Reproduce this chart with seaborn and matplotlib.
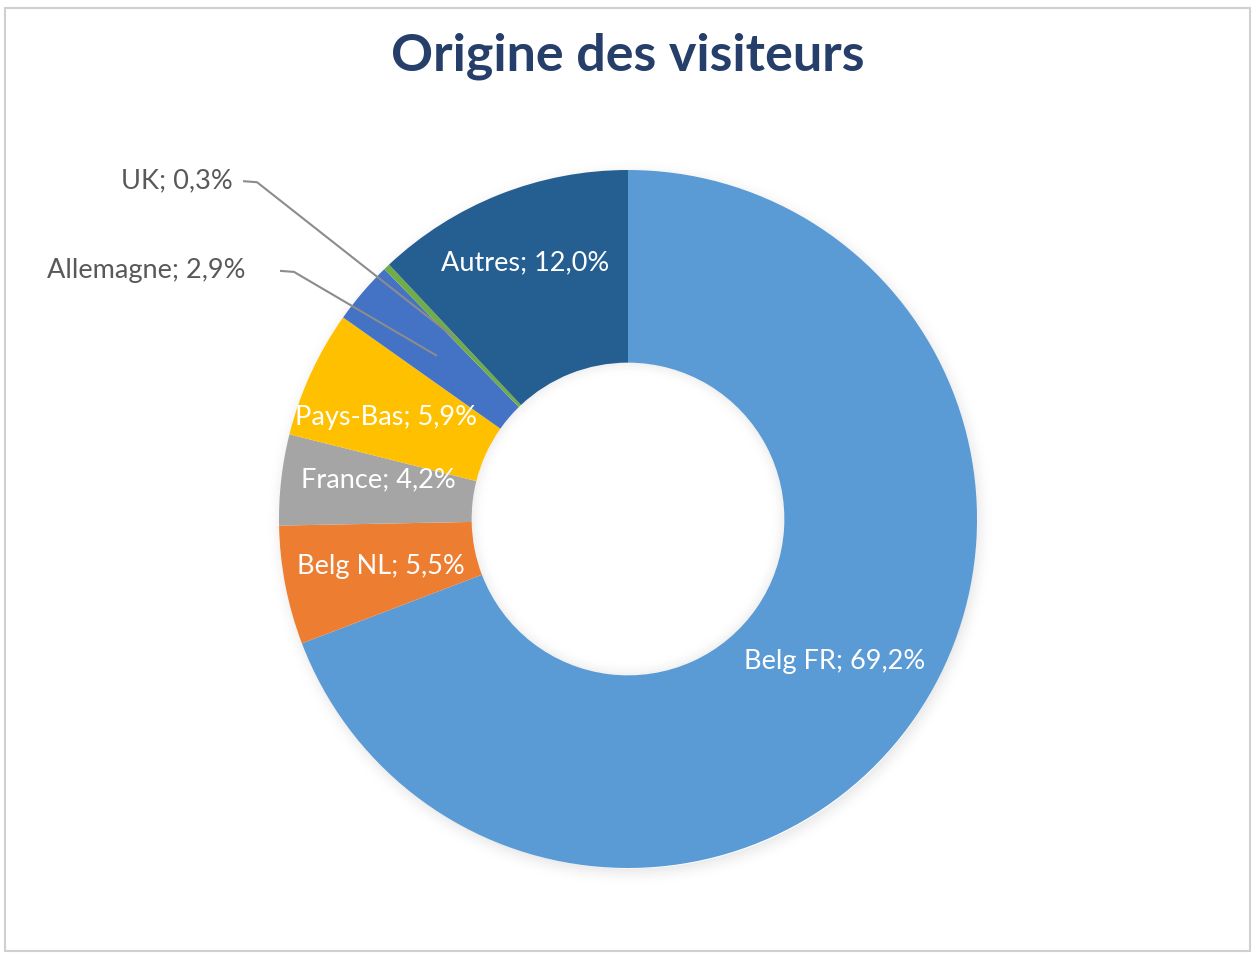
"""
Origine des visiteurs — donut chart
"""

import numpy as np
import matplotlib
matplotlib.use("Agg")
import matplotlib.pyplot as plt
import seaborn as sns
from matplotlib.patches import Rectangle, Wedge

sns.set_theme(style="white")
plt.rcParams["font.family"] = ["Lato", "DejaVu Sans"]

# données (sens horaire depuis midi)
pays     = ["Belg FR", "Belg NL", "France", "Pays-Bas", "Allemagne", "UK", "Autres"]
parts    = [69.2, 5.5, 4.2, 5.9, 2.9, 0.3, 12.0]
couleurs = ["#5B9BD5", "#ED7D31", "#A5A5A5", "#FFC000", "#4472C4", "#70AD47", "#255E91"]
exterieur = ["Allemagne", "UK"]   # étiquettes avec ligne de rappel

TITRE_C = "#263F6A"
GRIS    = "#595959"

W, H = 1255, 956
CX, CY, R = 628, 519, 349   # centre / rayon en pixels
R_IN = 0.448                 # rayon du trou

fig = plt.figure(figsize=(W / 100, H / 100), dpi=100)
ax = fig.add_axes([0, 0, 1, 1])

# ombre douce autour de l'anneau (dégradé vers l'extérieur)
n = 14
for i in range(n):
    a = 0.07 * (1 - i / n) ** 2
    ax.add_patch(Wedge((0.006, -0.012), 0.99 + i * 0.004 + 0.004, 0, 360,
                       width=0.0045, color="black", alpha=a, lw=0, zorder=0))

wedges, _ = ax.pie(parts, colors=couleurs, startangle=90, counterclock=False,
                   radius=1.0, wedgeprops=dict(width=1 - R_IN, edgecolor="none"))

# ombre intérieure légère (dégradé vers le centre)
n = 10
for i in range(n):
    a = 0.05 * (1 - i / n) ** 2
    ax.add_patch(Wedge((0, 0), R_IN - i * 0.004, 0, 360, width=0.0045,
                       color="black", alpha=a, lw=0, zorder=3))

# étiquettes
R_LAB = 0.72
pos_ext = {"Allemagne": ((-1.097, 0.711), (-0.997, 0.711)),
           "UK": ((-1.132, 0.968), (-1.103, 0.968))}
decal = {"Autres": (-0.03, 0.065), "Pays-Bas": (-0.04, -0.01), "France": (0.0, 0.03)}
cum = 0.0
for nom, val in zip(pays, parts):
    mid = cum + val / 2
    cum += val
    ang = np.deg2rad(90 - mid / 100 * 360)
    x, y = R_LAB * np.cos(ang), R_LAB * np.sin(ang)
    txt = f"{nom}; {val:.1f}%".replace(".", ",")
    if nom in exterieur:
        (tx, ty), (lx, ly) = pos_ext[nom]
        ax.text(tx, ty, txt, ha="right", va="center", fontsize=19.5,
                color=GRIS, zorder=6)
        ax.plot([lx, lx + 0.04, x], [ly, ly - 0.003, y],
                color="#8C8C8C", lw=1.5, zorder=6, solid_capstyle="butt")
    else:
        dx, dy = decal.get(nom, (0, 0))
        ax.text(x + dx, y + dy, txt, ha="center", va="center", fontsize=19.5,
                color="white", zorder=6)

ax.set_xlim((0 - CX) / R, (W - CX) / R)
ax.set_ylim(-(H - CY) / R, CY / R)
ax.set_aspect("auto")
ax.axis("off")

fig.text(0.5, 1 - 56 / H, "Origine des visiteurs", ha="center", va="center",
         fontsize=37.5, fontweight="bold", color=TITRE_C)

fig.patches.append(Rectangle((5 / W, 1 - 951 / H), 1245 / W, 943 / H,
                             transform=fig.transFigure, fill=False,
                             edgecolor="#D0D0D0", lw=1.5))

plt.savefig("out.png", dpi=100)
plt.close()
